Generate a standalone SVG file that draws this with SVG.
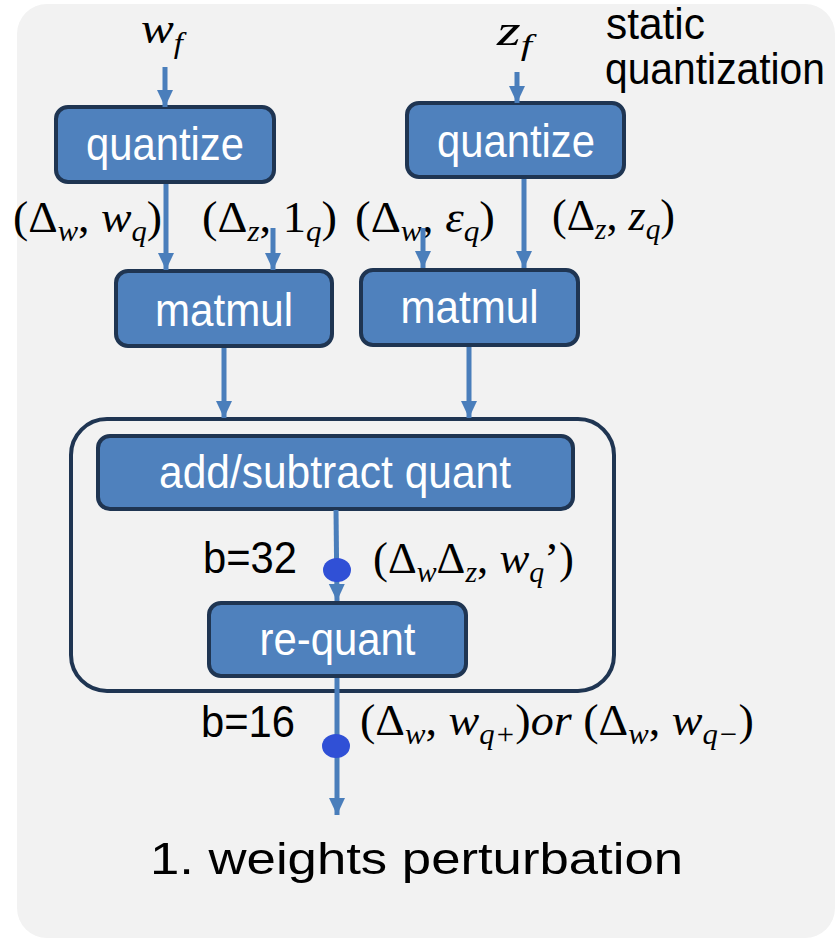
<svg xmlns="http://www.w3.org/2000/svg" width="838" height="940" viewBox="0 0 838 940">
<defs>
<style>
.box{fill:#4f81bd;stroke:#1f3552;stroke-width:4}
.bt{font-family:"Liberation Sans",Arial,sans-serif;font-size:46px;fill:#ffffff;text-anchor:middle}
.lt{font-family:"Liberation Sans",Arial,sans-serif;font-size:44px;fill:#000000}
.m{font-family:"Liberation Serif","DejaVu Serif",serif;font-size:45px;fill:#000000}
.i{font-style:italic}
.s{font-style:italic;font-size:30px}
.c{stroke:#4a7ebb;stroke-width:5;fill:none;marker-end:url(#ah)}
.dot{fill:#3050d6}
</style>
<marker id="ah" markerUnits="userSpaceOnUse" markerWidth="18" markerHeight="18" refX="17" refY="8" orient="auto">
<path d="M0,0 L17,8 L0,16 z" fill="#4a7ebb"/>
</marker>
</defs>
<rect x="0" y="0" width="838" height="940" fill="#ffffff"/>
<rect x="17" y="4" width="818" height="934" rx="30" ry="30" fill="#f2f2f2"/>

<g id="labels">
<text class="m i" x="141" y="43" font-size="44" textLength="42" lengthAdjust="spacingAndGlyphs">w<tspan class="s" dy="10">f</tspan></text>
<text class="m i" x="497" y="45" font-size="44" textLength="35" lengthAdjust="spacingAndGlyphs">z<tspan class="s" dy="10">f</tspan></text>
<text class="lt" x="606" y="39" textLength="99" lengthAdjust="spacingAndGlyphs">static</text>
<text class="lt" x="605" y="84" font-size="43" textLength="220" lengthAdjust="spacingAndGlyphs">quantization</text>
<text class="m" x="13" y="232" textLength="149" lengthAdjust="spacingAndGlyphs">(Δ<tspan class="s" dy="9">w</tspan><tspan dy="-9">, </tspan><tspan class="i">w</tspan><tspan class="s" dy="9">q</tspan><tspan dy="-9">)</tspan></text>
<text class="m" x="202" y="232" textLength="135" lengthAdjust="spacingAndGlyphs">(Δ<tspan class="s" dy="9">z</tspan><tspan dy="-9">, 1</tspan><tspan class="s" dy="9">q</tspan><tspan dy="-9">)</tspan></text>
<text class="m" x="355" y="232" textLength="140" lengthAdjust="spacingAndGlyphs">(Δ<tspan class="s" dy="9">w</tspan><tspan dy="-9">, </tspan><tspan class="i">ε</tspan><tspan class="s" dy="9">q</tspan><tspan dy="-9">)</tspan></text>
<text class="m" x="552" y="230" textLength="123" lengthAdjust="spacingAndGlyphs">(Δ<tspan class="s" dy="9">z</tspan><tspan dy="-9">, </tspan><tspan class="i">z</tspan><tspan class="s" dy="9">q</tspan><tspan dy="-9">)</tspan></text>
<text class="lt" x="203" y="573" textLength="94" lengthAdjust="spacingAndGlyphs">b=32</text>
<text class="m" x="373" y="573" textLength="201" lengthAdjust="spacingAndGlyphs">(Δ<tspan class="s" dy="9">w</tspan><tspan dy="-9">Δ</tspan><tspan class="s" dy="9">z</tspan><tspan dy="-9">, </tspan><tspan class="i">w</tspan><tspan class="s" dy="9">q</tspan><tspan dy="-9">’)</tspan></text>
<text class="lt" x="201" y="737" textLength="94" lengthAdjust="spacingAndGlyphs">b=16</text>
<text class="m" x="360" y="735" textLength="394" lengthAdjust="spacingAndGlyphs">(Δ<tspan class="s" dy="9">w</tspan><tspan dy="-9">, </tspan><tspan class="i">w</tspan><tspan class="s" dy="9">q+</tspan><tspan dy="-9">)</tspan><tspan class="i">or</tspan> (Δ<tspan class="s" dy="9">w</tspan><tspan dy="-9">, </tspan><tspan class="i">w</tspan><tspan class="s" dy="9">q−</tspan><tspan dy="-9">)</tspan></text>
<text class="lt" x="150" y="874" font-size="58" textLength="533" lengthAdjust="spacingAndGlyphs">1. weights perturbation</text>
</g>

<g id="container">
<rect x="71" y="419" width="543" height="272" rx="36" ry="36" fill="none" stroke="#1f3552" stroke-width="4"/>
</g>

<g id="quantize-w">
<rect class="box" x="56" y="107" width="218" height="75" rx="12"/>
<text class="bt" x="165" y="160" textLength="158" lengthAdjust="spacingAndGlyphs">quantize</text>
</g>
<g id="quantize-z">
<rect class="box" x="407" y="103" width="217" height="74" rx="12"/>
<text class="bt" x="516" y="157" textLength="158" lengthAdjust="spacingAndGlyphs">quantize</text>
</g>
<g id="matmul-1">
<rect class="box" x="116" y="271" width="216" height="75" rx="12"/>
<text class="bt" x="224" y="326" textLength="138" lengthAdjust="spacingAndGlyphs">matmul</text>
</g>
<g id="matmul-2">
<rect class="box" x="361" y="270" width="217" height="75" rx="12"/>
<text class="bt" x="469.5" y="323" textLength="138" lengthAdjust="spacingAndGlyphs">matmul</text>
</g>
<g id="addsub">
<rect class="box" x="98" y="436" width="475" height="73" rx="12"/>
<text class="bt" x="335" y="488" textLength="352" lengthAdjust="spacingAndGlyphs">add/subtract quant</text>
</g>
<g id="requant">
<rect class="box" x="209" y="603" width="257" height="73" rx="12"/>
<text class="bt" x="337.5" y="655" textLength="156" lengthAdjust="spacingAndGlyphs">re-quant</text>
</g>

<g id="connectors">
<line class="c" x1="165" y1="67" x2="165" y2="107"/>
<line class="c" x1="517" y1="72" x2="517" y2="103"/>
<line class="c" x1="166" y1="184" x2="166" y2="270"/>
<line class="c" x1="273" y1="228" x2="273" y2="270"/>
<line class="c" x1="423" y1="228" x2="423" y2="268"/>
<line class="c" x1="524" y1="179" x2="524" y2="268"/>
<line class="c" x1="224" y1="348" x2="224" y2="418"/>
<line class="c" x1="469" y1="347" x2="469" y2="418"/>
<line class="c" x1="336" y1="510" x2="337" y2="601"/>
<line class="c" x1="337" y1="678" x2="337" y2="815"/>
<ellipse class="dot" cx="337" cy="570" rx="14" ry="12"/>
<ellipse class="dot" cx="336" cy="746" rx="14" ry="12"/>
</g>
</svg>
